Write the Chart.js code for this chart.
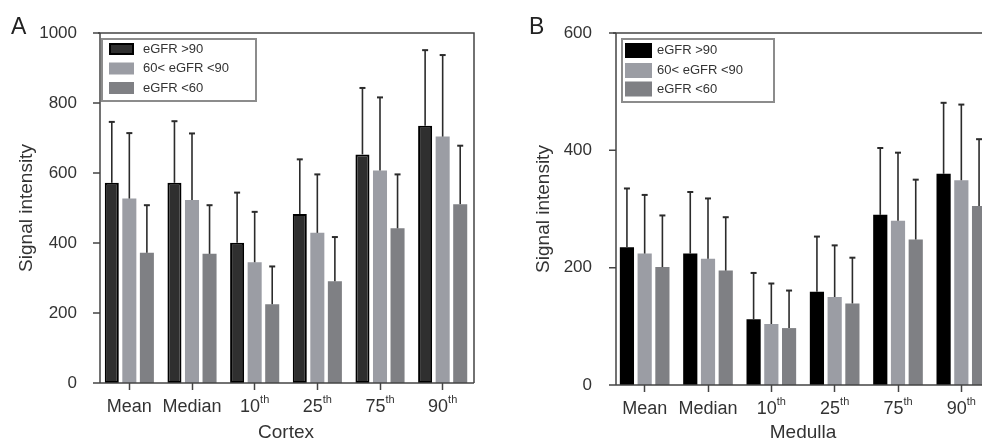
<!DOCTYPE html>
<html>
<head>
<meta charset="utf-8">
<script src="https://cdn.jsdelivr.net/npm/chart.js@4"></script>
<style>
  body { margin: 0; width: 982px; height: 444px; overflow: hidden; background: #fff; position: relative; font-family: "Liberation Sans", Arial, sans-serif; }
  .panel { position: absolute; top: 0; height: 444px; }
  .letter { position: absolute; font-size: 23px; line-height: 23px; color: #222; }
</style>
</head>
<body>
<div class="panel" style="left:0;width:491px"><canvas id="cortex" width="491" height="444"></canvas></div>
<div class="panel" style="left:491px;width:520px"><canvas id="medulla" width="520" height="444"></canvas></div>
<div class="letter" style="left:11px;top:15px">A</div>
<div class="letter" style="left:529px;top:15px">B</div>
<script>
// categorias e legendas
const categorias = ["Mean", "Median", "10th", "25th", "75th", "90th"];
const legendas = ["eGFR >90", "60< eGFR <90", "eGFR <60"];

// Cortex (erro = topo da barra de erro)
const cortexAlto = [572, 572, 401, 483, 653, 735];
const cortexAltoErro = [746, 748, 544, 639, 843, 951];
const cortexMedio = [527, 523, 345, 429, 607, 704];
const cortexMedioErro = [714, 713, 489, 596, 816, 937];
const cortexBaixo = [372, 369, 225, 291, 442, 511];
const cortexBaixoErro = [508, 508, 333, 417, 596, 678];

// Medulla
const medulaAlto = [235, 224, 112, 159, 290, 360];
const medulaAltoErro = [335, 329, 191, 253, 404, 481];
const medulaMedio = [224, 215, 104, 150, 280, 349];
const medulaMedioErro = [324, 318, 173, 238, 396, 478];
const medulaBaixo = [201, 195, 97, 139, 248, 305];
const medulaBaixoErro = [289, 286, 161, 217, 350, 419];

const corTexto = '#333';
const corEixo = '#444';

// barras de erro (só a parte de cima)
const barrasErro = {
  id: 'barrasErro',
  afterDatasetsDraw(chart) {
    const ctx = chart.ctx, y = chart.scales.y;
    ctx.save();
    ctx.strokeStyle = '#2b2b2b';
    chart.data.datasets.forEach((ds, di) => {
      chart.getDatasetMeta(di).data.forEach((bar, i) => {
        const topo = y.getPixelForValue(ds.erro[i]);
        ctx.lineWidth = 1.6;
        ctx.beginPath();
        ctx.moveTo(bar.x, bar.y);
        ctx.lineTo(bar.x, topo);
        ctx.stroke();
        ctx.lineWidth = 2;
        ctx.beginPath();
        ctx.moveTo(bar.x - 3, topo);
        ctx.lineTo(bar.x + 3, topo);
        ctx.stroke();
      });
    });
    ctx.restore();
  }
};

// moldura + rótulos do eixo x com sobrescrito
const moldura = {
  id: 'moldura',
  afterDraw(chart) {
    const ctx = chart.ctx, a = chart.chartArea, x = chart.scales.x;
    ctx.save();
    ctx.strokeStyle = corEixo;
    ctx.lineWidth = 1.5;
    ctx.beginPath();
    ctx.moveTo(a.left, a.top);
    ctx.lineTo(a.right, a.top);
    ctx.lineTo(a.right, a.bottom);
    ctx.stroke();

    ctx.fillStyle = corTexto;
    ctx.textBaseline = 'middle';
    categorias.forEach((c, i) => {
      const m = c.match(/^(\d+)(th)$/);
      const base = m ? m[1] : c, sup = m ? m[2] : '';
      ctx.font = '18px "Liberation Sans", Arial, sans-serif';
      const wb = ctx.measureText(base).width;
      ctx.font = '11px "Liberation Sans", Arial, sans-serif';
      const ws = sup ? ctx.measureText(sup).width : 0;
      const cx = x.getPixelForTick(i), cy = a.bottom + 24;
      const x0 = cx - (wb + ws) / 2;
      ctx.textAlign = 'left';
      ctx.font = '18px "Liberation Sans", Arial, sans-serif';
      ctx.fillText(base, x0, cy);
      if (sup) {
        ctx.font = '11px "Liberation Sans", Arial, sans-serif';
        ctx.fillText(sup, x0 + wb, cy - 7);
      }
    });
    ctx.restore();
  }
};

// legenda dentro da área do gráfico
const caixaLegenda = {
  id: 'caixaLegenda',
  afterDraw(chart, args, o) {
    const ctx = chart.ctx;
    ctx.save();
    ctx.strokeStyle = '#8c8c8c';
    ctx.lineWidth = 2;
    ctx.strokeRect(o.x, o.y, o.w, o.h);
    ctx.font = '13px "Liberation Sans", Arial, sans-serif';
    ctx.textBaseline = 'middle';
    ctx.textAlign = 'left';
    chart.data.datasets.forEach((ds, i) => {
      const cy = o.linhas[i];
      ctx.fillStyle = ds.backgroundColor;
      ctx.fillRect(o.sx, cy - o.sh / 2, o.sw, o.sh);
      if (ds.borderWidth) {
        ctx.strokeStyle = ds.borderColor;
        ctx.lineWidth = ds.borderWidth;
        ctx.strokeRect(o.sx + 1, cy - o.sh / 2 + 1, o.sw - 2, o.sh - 2);
      }
      ctx.fillStyle = corTexto;
      ctx.fillText(ds.label, o.tx, cy);
    });
    ctx.restore();
  }
};

function gerarGrafico(id, titulo, series, erros, cores, op) {
  const grade = { drawOnChartArea: false, drawTicks: true, tickLength: 7, tickWidth: 1.5, tickColor: corEixo };
  new Chart(document.getElementById(id), {
    type: 'bar',
    data: {
      labels: categorias,
      datasets: series.map((d, i) => ({
        label: legendas[i],
        data: d,
        erro: erros[i],
        backgroundColor: cores[i].fundo,
        borderColor: cores[i].borda || cores[i].fundo,
        borderWidth: cores[i].larg || 0,
        borderSkipped: false,
        categoryPercentage: 0.84,
        barPercentage: 0.8
      }))
    },
    options: {
      responsive: false,
      animation: false,
      events: [],
      layout: { padding: { top: 33, right: op.dir, left: 0, bottom: 0 } },
      plugins: {
        legend: { display: false },
        tooltip: { enabled: false },
        caixaLegenda: op.legenda
      },
      scales: {
        x: {
          offset: true,
          grid: { ...grade, offset: false },
          border: { display: false },
          ticks: { color: 'rgba(0,0,0,0)', font: { size: 18 } },
          title: { display: true, text: titulo, color: corTexto, font: { size: 19 }, padding: { top: 0, bottom: 0 } },
          afterFit: s => { s.height = op.altX; }
        },
        y: {
          min: 0,
          max: op.max,
          grid: { display: false },
          border: { display: false },
          ticks: { stepSize: 200, color: corTexto, font: { size: 17 }, padding: 13, callback: v => String(v) },
          title: { display: true, text: 'Signal intensity', color: corTexto, font: { size: 19 }, padding: { top: op.padTitulo, bottom: 0 } },
          afterFit: s => { s.width = op.largY; }
        }
      }
    },
    plugins: [barrasErro, moldura, caixaLegenda, {
      // eixo y desenhado na posição da figura original, com as marcas
      id: 'eixos',
      afterDraw(chart) {
        const ctx = chart.ctx, a = chart.chartArea, y = chart.scales.y;
        const x0 = a.left + op.eixoDesloc;
        ctx.save();
        ctx.strokeStyle = corEixo;
        ctx.lineWidth = 1.5;
        ctx.beginPath();
        ctx.moveTo(x0, a.top);
        ctx.lineTo(x0, a.bottom);
        ctx.lineTo(a.right, a.bottom);
        y.ticks.forEach((t, i) => {
          const py = y.getPixelForTick(i);
          ctx.moveTo(x0 - 7, py);
          ctx.lineTo(x0, py);
        });
        ctx.stroke();
        ctx.restore();
      }
    }]
  });
}

Chart.defaults.font.family = '"Liberation Sans", Arial, sans-serif';

gerarGrafico('cortex', 'Cortex',
  [cortexAlto, cortexMedio, cortexBaixo],
  [cortexAltoErro, cortexMedioErro, cortexBaixoErro],
  [{ fundo: '#2f2f2f', borda: '#000', larg: 2 }, { fundo: '#9b9da4' }, { fundo: '#7f8084' }],
  { dir: 17, altX: 61, largY: 98, max: 1000, padTitulo: 15, eixoDesloc: 2,
    legenda: { x: 102, y: 39, w: 154, h: 62, sx: 109, sw: 25, sh: 12, tx: 143, linhas: [49, 68.5, 88] } });

gerarGrafico('medulla', 'Medulla',
  [medulaAlto, medulaMedio, medulaBaixo],
  [medulaAltoErro, medulaMedioErro, medulaBaixoErro],
  [{ fundo: '#000' }, { fundo: '#9b9da4' }, { fundo: '#7f8084' }],
  { dir: 18, altX: 59, largY: 122, max: 600, padTitulo: 41, eixoDesloc: 3,
    legenda: { x: 131, y: 39, w: 152, h: 63, sx: 134, sw: 27, sh: 15, tx: 166, linhas: [50.5, 70.5, 89] } });
</script>
</body>
</html>
